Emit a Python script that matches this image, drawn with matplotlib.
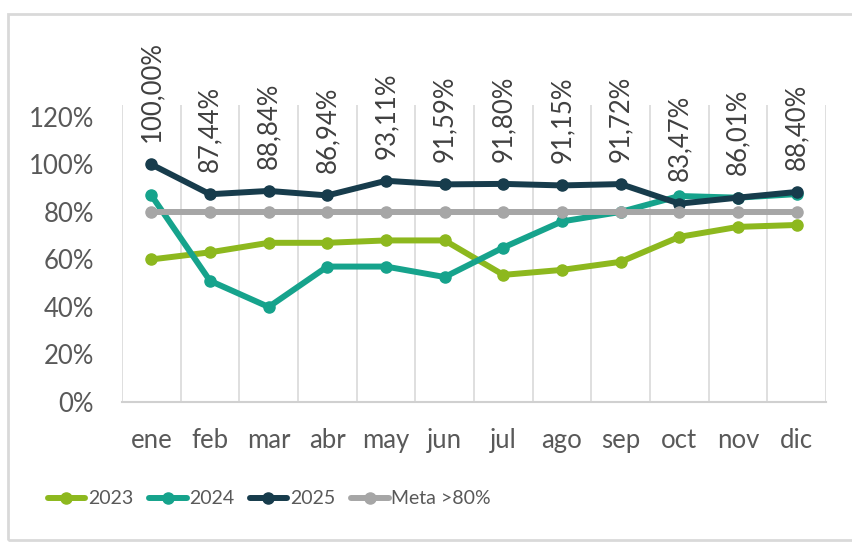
import matplotlib
matplotlib.use("Agg")
import matplotlib.pyplot as plt
from matplotlib.patches import Rectangle

months = ["ene", "feb", "mar", "abr", "may", "jun", "jul", "ago", "sep", "oct", "nov", "dic"]
serie_2023 = [60, 63, 67, 67, 68, 68, 53.5, 55.6, 59, 69.5, 73.7, 74.5]
serie_2024 = [87, 51, 40, 57, 57, 52.6, 65, 76, 80, 86.7, 86, 87.5]
serie_2025 = [100.00, 87.44, 88.84, 86.94, 93.11, 91.59, 91.80, 91.15, 91.72, 83.47, 86.01, 88.40]
meta = [80] * 12
y_ticks = [0, 20, 40, 60, 80, 100, 120]

colors = {
    "2023": "#8DB81E",
    "2024": "#16A38C",
    "2025": "#173C4C",
    "Meta >80%": "#A6A6A6",
}
text_color = "#595959"
font = "Lato"
fs = 18.5

fig = plt.figure(figsize=(8.52, 5.42), dpi=100)
fig.patch.set_facecolor("white")

# outer chart frame
fig.add_artist(Rectangle((8 / 852, 1 - 540 / 542), 900 / 852, (540 - 14) / 542,
                         transform=fig.transFigure, fill=False,
                         edgecolor="#D9D9D9", linewidth=2))

ax = fig.add_axes([122 / 852, 1 - 402 / 542, (826 - 122) / 852, (402 - 105) / 542])
x = list(range(len(months)))

series = [("2023", serie_2023), ("2024", serie_2024), ("2025", serie_2025), ("Meta >80%", meta)]
for name, vals in series:
    ax.plot(x, [v / 100 for v in vals], color=colors[name], linewidth=4.3,
            marker="o", markersize=8, label=name, solid_capstyle="round")

# value labels for 2025, written upwards starting just above each point
for xi, v in zip(x, serie_2025):
    ax.annotate(f"{v:.2f}%".replace(".", ","), (xi, v / 100), xytext=(0, 16),
                textcoords="offset points", rotation=90, rotation_mode="anchor",
                ha="left", va="center",
                fontsize=fs, family=font, color="#404040")

ax.set_xlim(-0.5, 11.5)
ax.set_ylim(0, 1.25)
ax.set_yticks([t / 100 for t in y_ticks])
ax.set_yticklabels([f"{t}%" for t in y_ticks])
ax.set_xticks(x)
ax.set_xticklabels(months)

# category separators
for b in [i - 0.5 for i in range(13)]:
    ax.axvline(b, color="#D9D9D9", linewidth=1.2, zorder=0)

for s in ["top", "right", "left"]:
    ax.spines[s].set_visible(False)
ax.spines["bottom"].set_color("#D0D0D0")
ax.spines["bottom"].set_linewidth(1.5)
ax.tick_params(axis="both", length=0, labelsize=fs, labelcolor=text_color)
ax.tick_params(axis="y", pad=20)
ax.tick_params(axis="x", pad=19)
for lab in ax.get_xticklabels() + ax.get_yticklabels():
    lab.set_family(font)

leg_fs = 14
leg = fig.legend(loc="center", bbox_to_anchor=(269 / 852, 1 - 499 / 542), ncol=4,
                 frameon=False, handlelength=1.95, handletextpad=0.12,
                 columnspacing=0.8,
                 prop={"family": font, "size": leg_fs},
                 labelcolor=text_color, numpoints=1)

fig.savefig("out.png", dpi=100, facecolor="white")
